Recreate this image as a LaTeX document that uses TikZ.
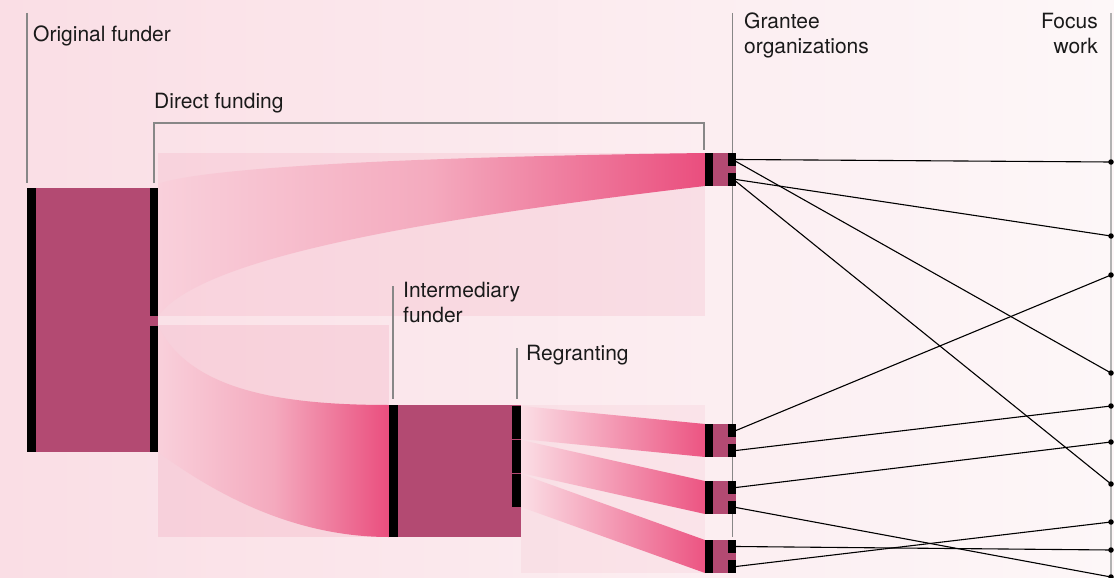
\documentclass[tikz,border=0pt]{standalone}
\usepackage{fontspec}
\setmainfont{TeX Gyre Heros}
\usetikzlibrary{calc}
\definecolor{blockc}{RGB}{179,74,114}
\definecolor{bgL}{RGB}{250,222,229}
\definecolor{bgR}{RGB}{253,247,248}
\definecolor{ovl}{RGB}{235,110,145}
\definecolor{bandL}{RGB}{249,208,219}
\definecolor{bandM}{RGB}{244,170,190}
\definecolor{bandR}{RGB}{234,78,126}
\definecolor{rbandL}{RGB}{251,222,229}
\definecolor{rbandR}{RGB}{236,84,130}
\definecolor{guidec}{RGB}{135,135,135}
\definecolor{focusc}{RGB}{178,178,178}
\definecolor{textc}{RGB}{26,26,26}
\tikzset{
  blk/.style={fill=blockc, inner sep=0pt, outer sep=0pt, anchor=north west},
  barblk/.style={fill=black, inner sep=0pt, outer sep=0pt, anchor=north west},
  lbl/.style={font=\fontsize{21}{25}\selectfont, text=textc, inner sep=0pt, anchor=base west},
  guide/.style={draw=guidec, line width=1.1pt},
  focusline/.style={draw=focusc, line width=2pt},
  conn/.style={draw=black, line width=1.1pt},
  fdot/.style={circle, fill=black, inner sep=0pt, minimum size=5.5pt},
  ovlrect/.style={fill=ovl, fill opacity=#1},
  bandshade/.style={left color=bandL, right color=bandR, middle color=bandM},
  rbandshade/.style={left color=rbandL, right color=rbandR},
}
\begin{document}
\begin{tikzpicture}[x=1pt,y=-1pt]
\useasboundingbox (0,0) rectangle (1114,578);
\shade[left color=bgL, right color=bgR] (0,0) rectangle (1114,578);

% overlay rectangles
\fill[ovlrect=0.12] (158,153) rectangle (705,316);
\fill[ovlrect=0.15] (158,325) rectangle (389,537);
\fill[ovlrect=0.08] (521,405) rectangle (705,573);

% flow bands
\shade[bandshade]
  (158,184) .. controls (200,168) and (400,157) .. (705,153)
  -- (705,186) .. controls (400,222) and (200,260) .. (158,316) -- cycle;
\shade[bandshade]
  (158,326) .. controls (190,390) and (280,405) .. (389,405)
  -- (389,537) .. controls (312,537) and (235,509) .. (158,452) -- cycle;
\shade[rbandshade]
  (521,406) -- (705,424) -- (705,457) -- (521,439) -- cycle;
\shade[rbandshade]
  (521,440) -- (705,481) -- (705,514) -- (521,473) -- cycle;
\shade[rbandshade]
  (521,474) -- (705,540) -- (705,573) -- (521,507) -- cycle;

% guide lines
\draw[guide] (27,13) -- (27,183);
\draw[guide] (154,183) -- (154,123) -- (704,123) -- (704,150);
\draw[guide] (393,286) -- (393,399);
\draw[guide] (517,348) -- (517,399);
\draw[guide] (732.5,13) -- (732.5,537);
\draw[focusline] (1111,13) -- (1111,578);

% original funder
\node[blk, minimum width=131pt, minimum height=264pt] (orig) at (27,188) {};
\node[barblk, minimum width=9pt, minimum height=264pt] (origL) at (27,188) {};
\node[barblk, minimum width=8pt, minimum height=128pt] (origR1) at (150,188) {};
\node[barblk, minimum width=8pt, minimum height=126pt] (origR2) at (150,326) {};

% intermediary funder
\node[blk, minimum width=132pt, minimum height=132pt] (inter) at (389,405) {};
\node[barblk, minimum width=9pt, minimum height=132pt] (interL) at (389,405) {};
\node[barblk, minimum width=9pt, minimum height=33pt] (interR1) at (512,406) {};
\node[barblk, minimum width=9pt, minimum height=33pt] (interR2) at (512,440) {};
\node[barblk, minimum width=9pt, minimum height=33pt] (interR3) at (512,474) {};

% grantee organizations
\foreach \n/\t in {1/153,2/424,3/481,4/540}{
  \node[blk, minimum width=31pt, minimum height=33pt] (g\n) at (705,\t) {};
  \node[barblk, minimum width=8pt, minimum height=33pt] (g\n L) at (705,\t) {};
  \node[barblk, minimum width=8pt, minimum height=13pt] (g\n a) at (728,\t) {};
  \node[barblk, minimum width=8pt, minimum height=13pt] (g\n b) at (728,\t+20) {};
}

% focus work dots
\foreach \n/\y in {1/162,2/236,3/275,4/373,5/406,6/442,7/484,8/522,9/550,10/577}{
  \node[fdot] (f\n) at (1111,\y) {};
}

% connectors
\draw[conn] (g1a.east) -- (f1.center);
\draw[conn] ([yshift=-2pt]g1a.east) -- (f4.center);
\draw[conn] (g1b.east) -- (f2.center);
\draw[conn] ([yshift=-2pt]g1b.east) -- (f7.center);
\draw[conn] (g2a.east) -- (f3.center);
\draw[conn] (g2b.east) -- (f5.center);
\draw[conn] (g3a.east) -- (f6.center);
\draw[conn] (g3b.east) -- (f10.center);
\draw[conn] (g4a.east) -- (f9.center);
\draw[conn] (g4b.east) -- (f8.center);

% labels (base anchor of multi-line nodes = last line)
\node[lbl] (lorig) at (33,42) {Original funder};
\node[lbl] (ldirect) at (154,108) {Direct funding};
\node[lbl, align=left] (linter) at (403,322) {Intermediary\\funder};
\node[lbl] (lregrant) at (526,360) {Regranting};
\node[lbl, align=left] (lgrantee) at (744,54) {Grantee\\organizations};
\node[lbl, align=right, anchor=base east] (lfocus) at (1098,54) {Focus\\work};
\end{tikzpicture}
\end{document}
